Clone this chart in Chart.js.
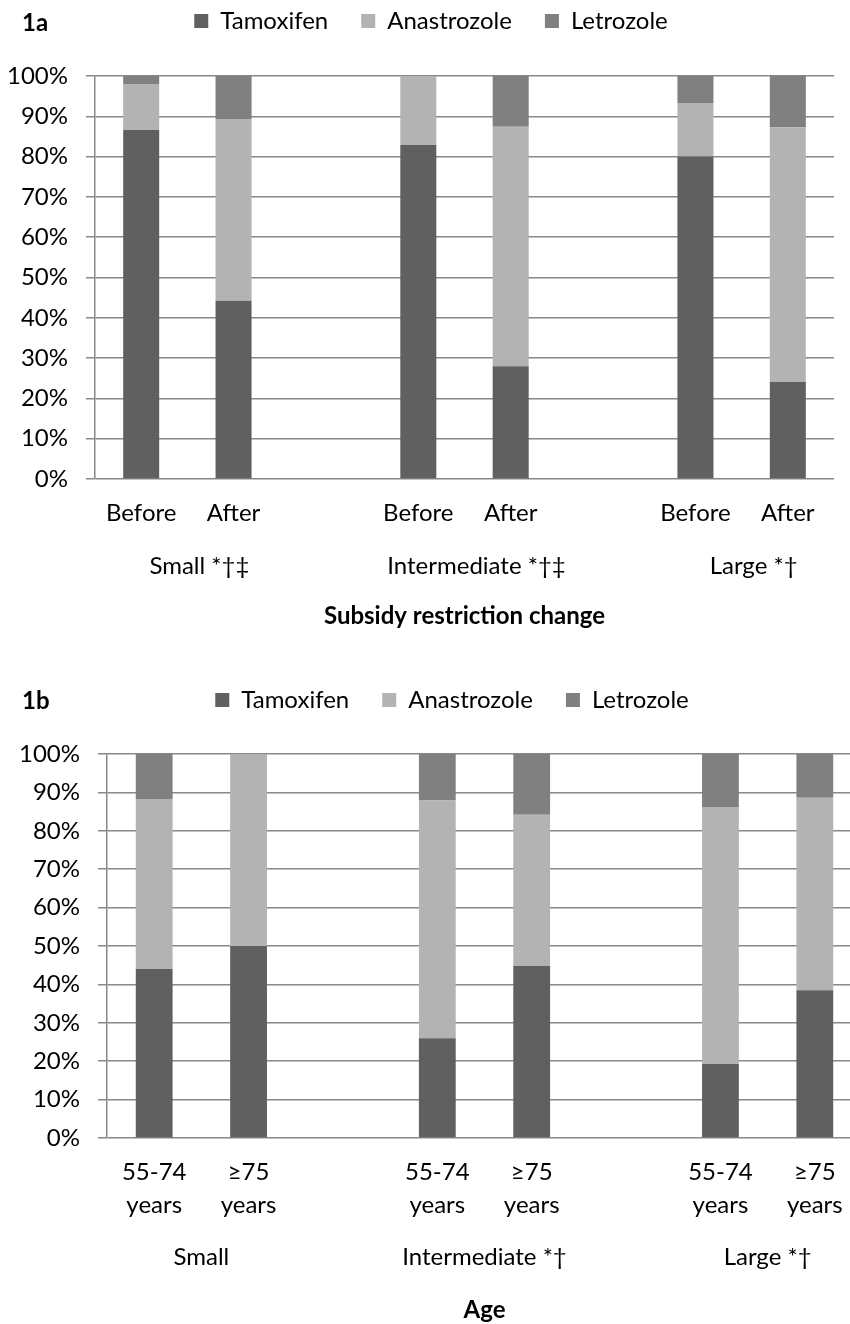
<!DOCTYPE html>
<html>
<head>
<meta charset="utf-8">
<script src="https://cdn.jsdelivr.net/npm/chart.js@4.4.1/dist/chart.umd.min.js"></script>
<style>
  html, body { margin: 0; padding: 0; background: #fff; overflow: hidden; }
  body { width: 850px; height: 1324px; position: relative; font-family: Lato, sans-serif; }
  .panel { position: absolute; left: 0; }
  #panelA { top: 0; width: 850px; height: 640px; }
  #panelB { top: 680px; width: 880px; height: 650px; }
  .tag { position: absolute; left: 22px; font: bold 24px Lato, sans-serif; line-height: 24px; color: #000; }
</style>
</head>
<body>
<div class="panel" id="panelA"><canvas id="chartA"></canvas></div>
<div class="panel" id="panelB"><canvas id="chartB"></canvas></div>
<div class="tag" style="top:10px">1a</div>
<div class="tag" style="top:688px">1b</div>

<script>
// ── data ──
const drugNames = ['Tamoxifen', 'Anastrozole', 'Letrozole'];
const drugColors = ['#606060', '#b3b3b3', '#808080'];

// 1a: subsidy restriction change
const subsidyLabels = ['Before', 'After', '', 'Before', 'After', '', 'Before', 'After'];
const subsidyGroups = ['Small *†‡', 'Intermediate *†‡', 'Large *†'];
const subsidyTamoxifen   = [86.6, 44.2, null, 82.9, 28.0, null, 80.0, 24.1];
const subsidyAnastrozole = [11.4, 45.1, null, 17.1, 59.4, null, 13.3, 63.2];
const subsidyLetrozole   = [2.0, 10.7, null, 0, 12.6, null, 6.7, 12.7];

// 1b: age
const ageLabels = [['55-74', 'years'], ['≥75', 'years'], '', ['55-74', 'years'], ['≥75', 'years'], '', ['55-74', 'years'], ['≥75', 'years']];
const ageGroups = ['Small', 'Intermediate *†', 'Large *†'];
const ageTamoxifen   = [44.0, 50.0, null, 26.0, 44.8, null, 19.3, 38.5];
const ageAnastrozole = [44.3, 50.0, null, 61.9, 39.4, null, 66.9, 50.1];
const ageLetrozole   = [11.7, 0, null, 12.1, 15.8, null, 13.8, 11.4];

const yTicks = [0, 10, 20, 30, 40, 50, 60, 70, 80, 90, 100];

Chart.defaults.font.family = 'Lato, "DejaVu Sans", sans-serif';
Chart.defaults.color = '#000';

// legend box gets a fixed height so the plot starts where it should,
// and is nudged so it sits like the original
const legendSpace = {
  id: 'legendSpace',
  beforeInit(chart, args, opts) {
    const legend = chart.legend;
    const fit = legend.fit;
    legend.fit = function () {
      fit.call(this);
      this.height = opts.height;
    };
    const draw = legend.draw;
    legend.draw = function () {
      const ctx = chart.ctx;
      ctx.save();
      ctx.translate(opts.dx, opts.dy);
      draw.call(this);
      ctx.restore();
    };
  }
};

function makeChart(id, o) {
  const series = [o.tam, o.ana, o.let];
  new Chart(document.getElementById(id), {
    type: 'bar',
    data: {
      labels: o.labels,
      datasets: drugNames.map((n, i) => ({
        label: n,
        data: series[i],
        backgroundColor: drugColors[i],
        xAxisID: 'x',
        barPercentage: 0.39,
        categoryPercentage: 1
      }))
    },
    plugins: [legendSpace],
    options: {
      responsive: true,
      maintainAspectRatio: false,
      animation: false,
      layout: { padding: { left: 0, right: o.padRight, top: 0, bottom: o.padBottom } },
      plugins: {
        legendSpace: { height: o.legendHeight, dx: o.legendDx, dy: o.legendDy },
        legend: {
          labels: { boxWidth: 14, boxHeight: 14, padding: 33, font: { size: 24 }, color: '#000' }
        },
        tooltip: { enabled: false }
      },
      scales: {
        x: {
          stacked: true,
          offset: true,
          grid: { display: false, drawTicks: false },
          border: { display: false },
          ticks: { autoSkip: false, maxRotation: 0, padding: o.tickPad, font: { size: 24, lineHeight: o.lineHeight } },
          afterFit: s => { s.height = o.h1; }
        },
        group: {
          type: 'linear',
          position: 'bottom',
          weight: 1,
          offset: false,
          min: 0,
          max: o.labels.length,
          grid: { display: false, drawTicks: false, offset: false },
          border: { display: false },
          afterBuildTicks: s => { s.ticks = o.groups.map((g, i) => ({ value: i * 3 + 1 })); },
          ticks: {
            padding: o.groupPad,
            labelOffset: o.groupOffset,
            font: { size: 24 },
            callback: v => o.groups[(v - 1) / 3]
          },
          title: {
            display: true,
            text: o.title,
            font: { size: 24, weight: 'bold' },
            padding: { top: 0, bottom: o.titlePad }
          },
          afterFit: s => { s.height = o.h2; }
        },
        y: {
          stacked: true,
          min: 0,
          max: 100,
          afterBuildTicks: s => { s.ticks = yTicks.map(v => ({ value: v })); },
          ticks: { padding: 18, font: { size: 24 }, callback: v => v + '%' },
          grid: { color: '#888', lineWidth: 1.5, tickLength: 9 },
          border: { display: true, color: '#888', width: 1.5 },
          afterFit: s => { s.width = o.yWidth; }
        }
      }
    }
  });
}

makeChart('chartA', {
  labels: subsidyLabels, groups: subsidyGroups,
  tam: subsidyTamoxifen, ana: subsidyAnastrozole, let: subsidyLetrozole,
  title: 'Subsidy restriction change',
  legendHeight: 76, legendDx: 14, legendDy: -24,
  yWidth: 95, padRight: 16, padBottom: 6,
  h1: 49, tickPad: 20, lineHeight: 1.2,
  h2: 106, groupPad: 23.6, groupOffset: 12, titlePad: 3.6
});

makeChart('chartB', {
  labels: ageLabels, groups: ageGroups,
  tam: ageTamoxifen, ana: ageAnastrozole, let: ageLetrozole,
  title: 'Age',
  legendHeight: 74, legendDx: 21, legendDy: -25,
  yWidth: 107, padRight: 18, padBottom: 0,
  h1: 83.5, tickPad: 17.5, lineHeight: 1.375,
  h2: 108.5, groupPad: 21, groupOffset: 0, titlePad: 5.6
});
</script>
</body>
</html>
